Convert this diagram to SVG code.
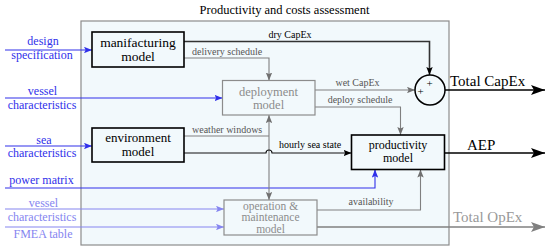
<svg xmlns="http://www.w3.org/2000/svg" width="550" height="250" viewBox="0 0 550 250">
<style>
text{font-family:"Liberation Serif","Times New Roman",serif;}
.t{font-size:12.5px;fill:#000;text-anchor:middle;}
.box{fill:#f2f9fc;stroke:#000;stroke-width:1.6;}
.gbox{fill:#f2f9fc;stroke:#8c8c8c;stroke-width:1.2;}
.bt{font-size:13px;fill:#000;text-anchor:middle;}
.gt{font-size:12.5px;fill:#8c8c8c;text-anchor:middle;}
.lbl{font-size:10px;fill:#555;}
.lblk{font-size:10px;fill:#000;}
.in{font-size:12px;text-anchor:middle;fill:#3030ea;}
.inl{font-size:12px;text-anchor:middle;fill:#8585f0;}
.big{font-size:15px;fill:#000;}
.c{fill:none;}
.blue{stroke:#3030ea;stroke-width:1.1;marker-end:url(#ab);}
.lblue{stroke:#8585f0;stroke-width:1.1;marker-end:url(#al);}
.gray{stroke:#808080;stroke-width:1.1;marker-end:url(#ag);}
.blk{stroke:#111;stroke-width:1.1;marker-end:url(#ak);}
</style>
<defs>
<marker id="ab" markerUnits="userSpaceOnUse" viewBox="0 0 10 8" markerWidth="8" markerHeight="6.4" refX="10" refY="4" orient="auto-start-reverse"><path d="M0,0 L10,4 L0,8 L2,4 z" fill="#3030ea"/></marker>
<marker id="al" markerUnits="userSpaceOnUse" viewBox="0 0 10 8" markerWidth="8" markerHeight="6.4" refX="10" refY="4" orient="auto-start-reverse"><path d="M0,0 L10,4 L0,8 L2,4 z" fill="#8585f0"/></marker>
<marker id="ag" markerUnits="userSpaceOnUse" viewBox="0 0 10 8" markerWidth="8" markerHeight="6.4" refX="10" refY="4" orient="auto-start-reverse"><path d="M0,0 L10,4 L0,8 L2,4 z" fill="#707070"/></marker>
<marker id="ak" markerUnits="userSpaceOnUse" viewBox="0 0 10 8" markerWidth="8" markerHeight="6.4" refX="10" refY="4" orient="auto-start-reverse"><path d="M0,0 L10,4 L0,8 L2,4 z" fill="#000"/></marker>
<marker id="bk" markerUnits="userSpaceOnUse" viewBox="0 0 14 10" markerWidth="14" markerHeight="10" refX="14" refY="5" orient="auto"><path d="M0,0 L14,5 L0,10 L3,5 z" fill="#000"/></marker>
<marker id="bg" markerUnits="userSpaceOnUse" viewBox="0 0 14 10" markerWidth="14" markerHeight="10" refX="14" refY="5" orient="auto"><path d="M0,0 L14,5 L0,10 L3,5 z" fill="#808080"/></marker>
</defs>

<g id="frame">
<rect x="81" y="21" width="368" height="224" fill="#f2f9fc" stroke="#8c8c8c" stroke-width="1.2"/>
<text class="t" x="284.5" y="14">Productivity and costs assessment</text>
</g>

<g id="inputs">
<text class="in" x="43" y="45">design</text>
<text class="in" x="42" y="59">specification</text>
<text class="in" x="42.5" y="95">vessel</text>
<text class="in" x="42" y="109">characteristics</text>
<text class="in" x="44" y="143.5">sea</text>
<text class="in" x="42" y="156.5">characteristics</text>
<text class="in" x="41.5" y="184">power matrix</text>
<text class="inl" x="43.5" y="206.5">vessel</text>
<text class="inl" x="42" y="221">characteristics</text>
<text class="inl" x="43" y="238">FMEA table</text>
</g>

<g id="connectors">
<path class="c blue" d="M5,50 H92"/>
<path class="c blue" d="M5,98 H222.5"/>
<path class="c blue" d="M5,146 H92"/>
<path class="c blue" d="M5,188 H375 V169.5"/>
<path class="c lblue" d="M5,209 H224"/>
<path class="c lblue" d="M5,227 H224"/>
<path class="c" d="M184,41.5 H429.5 V75" stroke="#333" stroke-width="1.6" marker-end="url(#ak)"/>
<path class="c gray" d="M184,58 H269 V80.5"/>
<path class="c gray" d="M315,90 H415"/>
<path class="c gray" d="M315,107 H400.5 V135"/>
<path class="c" d="M184,136 H269" stroke="#808080" stroke-width="1.1"/>
<path class="c gray" d="M269,115 V200" marker-start="url(#ag)"/>
<path class="c blk" d="M184,153 H266 A3,3 0 0 1 272,153 H351.5"/>
<path class="c gray" d="M317,210 H420.5 V169.5"/>
<path class="c" d="M317,227 H545" stroke="#808080" stroke-width="1.4" marker-end="url(#bg)"/>
<path class="c" d="M445,153 H545" stroke="#000" stroke-width="1.4" marker-end="url(#bk)"/>
<path class="c" d="M445,90 H545" stroke="#000" stroke-width="1.4" marker-end="url(#bk)"/>
<text class="lblk" x="290" y="37.5" text-anchor="middle">dry CapEx</text>
<text class="lbl" x="192" y="55">delivery schedule</text>
<text class="lbl" x="357.5" y="86" text-anchor="middle">wet CapEx</text>
<text class="lbl" x="360" y="102.5" text-anchor="middle">deploy schedule</text>
<text class="lbl" x="192" y="133">weather windows</text>
<text class="lblk" x="310" y="148" text-anchor="middle">hourly sea state</text>
<text class="lbl" x="371" y="205" text-anchor="middle">availability</text>
<text class="big" x="450" y="86">Total CapEx</text>
<text class="big" x="467" y="150">AEP</text>
<text class="big" x="453" y="221.5" style="fill:#999">Total OpEx</text>
</g>

<g id="manufacturing">
<rect class="box" x="92" y="32" width="92" height="35"/>
<text class="bt" x="138" y="47" style="font-size:13.5px">manifacturing</text>
<text class="bt" x="138" y="61" style="font-size:13.5px">model</text>
</g>

<g id="deployment">
<rect class="gbox" x="222.5" y="80.5" width="92.5" height="34.5"/>
<text class="gt" x="268.5" y="95.5">deployment</text>
<text class="gt" x="268.5" y="108.5">model</text>
</g>

<g id="environment">
<rect class="box" x="92" y="128" width="92" height="34"/>
<text class="bt" x="138" y="142">environment</text>
<text class="bt" x="138" y="155.5">model</text>
</g>

<g id="productivity">
<rect class="box" x="351.5" y="135" width="93" height="34.5"/>
<text class="bt" x="398" y="149" style="font-size:12px">productivity</text>
<text class="bt" x="398" y="161.5" style="font-size:12px">model</text>
</g>

<g id="om">
<rect class="gbox" x="224" y="200" width="93" height="35"/>
<text class="gt" x="270.5" y="209.5" style="font-size:11.5px">operation &amp;</text>
<text class="gt" x="270.5" y="221" style="font-size:11.5px">maintenance</text>
<text class="gt" x="270.5" y="232.5" style="font-size:11.5px">model</text>
</g>

<g id="sum">
<circle cx="430" cy="90" r="15" fill="#f2f9fc" stroke="#000" stroke-width="1.5"/>
<text x="429.5" y="87" font-size="11" text-anchor="middle" fill="#000">+</text>
<text x="420.5" y="95" font-size="11" text-anchor="middle" fill="#000">+</text>
</g>
</svg>
